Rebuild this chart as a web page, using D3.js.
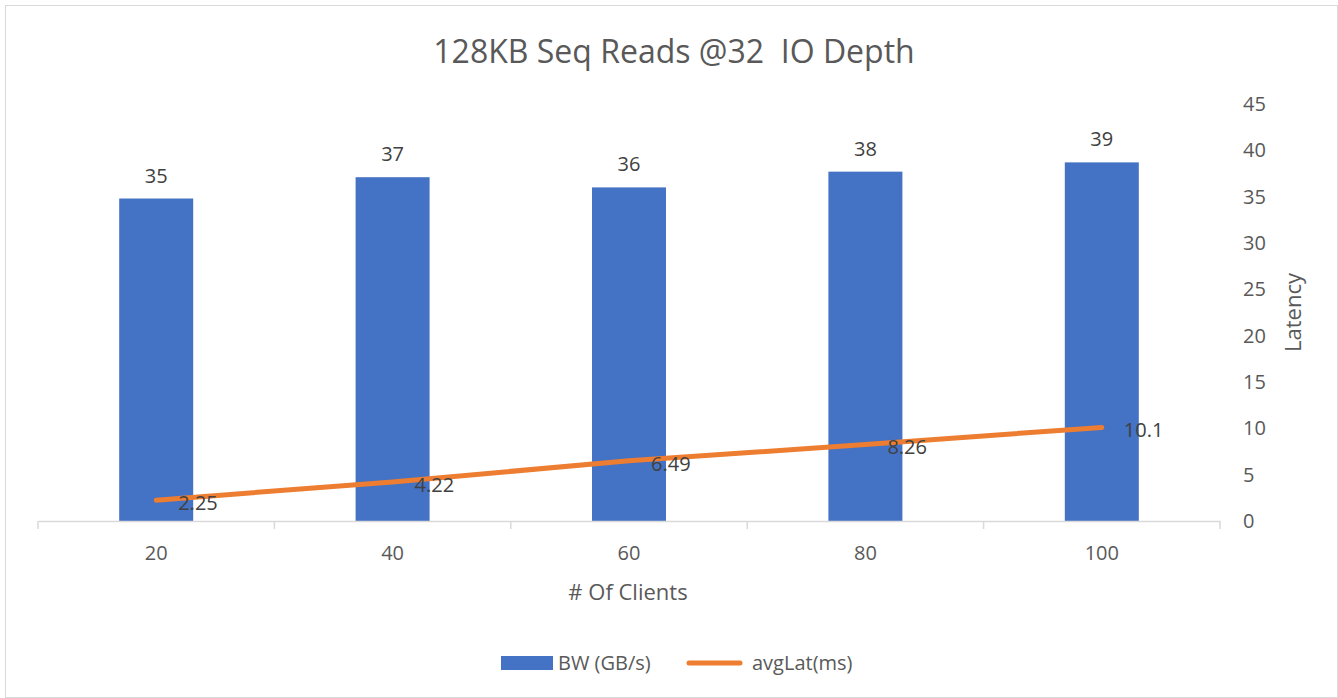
<!DOCTYPE html>
<html>
<head>
<meta charset="utf-8">
<script src="https://cdn.jsdelivr.net/npm/d3@7"></script>
<style>
  body { margin: 0; background: #fff; }
  text { font-family: "Open Sans", sans-serif; white-space: pre; }
</style>
</head>
<body>
<svg id="chart"></svg>
<script>
// chart data
const clients = ["20", "40", "60", "80", "100"];
const bandwidth = [34.8, 37.1, 36.0, 37.7, 38.7];
const latency = [2.25, 4.22, 6.49, 8.26, 10.1];
const latencyTicks = [0, 5, 10, 15, 20, 25, 30, 35, 40, 45];

const width = 1338, height = 698;
const margin = { left: 38, right: 118, top: 104, bottom: 177 };

const svg = d3.select("#chart")
  .attr("width", width)
  .attr("height", height);

// outer border
svg.append("rect")
  .attr("x", 5.5).attr("y", 5.5)
  .attr("width", width - 6).attr("height", height - 6)
  .attr("fill", "none")
  .attr("stroke", "#d9d9d9");

const x = d3.scaleBand()
  .domain(clients)
  .range([margin.left, width - margin.right]);

const y = d3.scaleLinear()
  .domain([0, 45])
  .range([height - margin.bottom, margin.top]);

// title
svg.append("text")
  .attr("x", 674).attr("y", 63)
  .attr("text-anchor", "middle")
  .attr("font-size", 32)
  .attr("fill", "#595959")
  .text("128KB Seq Reads @32  IO Depth");

// bars
const barW = 74;
svg.append("g")
  .selectAll("rect")
  .data(bandwidth)
  .join("rect")
    .attr("x", (d, i) => x(clients[i]) + x.bandwidth() / 2 - barW / 2)
    .attr("y", d => y(d))
    .attr("width", barW)
    .attr("height", d => y(0) - y(d))
    .attr("fill", "#4472c4");

svg.append("g")
  .selectAll("text")
  .data(bandwidth)
  .join("text")
    .attr("x", (d, i) => x(clients[i]) + x.bandwidth() / 2)
    .attr("y", d => y(d) - 16)
    .attr("text-anchor", "middle")
    .attr("font-size", 20)
    .attr("fill", "#404040")
    .text(d => d3.format(".0f")(d));

// x axis
const xAxis = svg.append("g")
  .attr("transform", `translate(0,${y(0)})`)
  .call(d3.axisBottom(x).tickSize(0).tickPadding(25));
xAxis.select(".domain").attr("stroke", "#d9d9d9").attr("stroke-width", 1.5);
xAxis.selectAll(".tick text")
  .attr("font-size", 20)
  .attr("font-family", "Open Sans, sans-serif")
  .attr("fill", "#595959");

// category separators
const bounds = clients.map(c => x(c)).concat([x.range()[1]]);
svg.append("g")
  .selectAll("line")
  .data(bounds)
  .join("line")
    .attr("x1", d => d).attr("x2", d => d)
    .attr("y1", y(0)).attr("y2", y(0) + 8)
    .attr("stroke", "#d9d9d9")
    .attr("stroke-width", 1.5);

svg.append("text")
  .attr("x", 628).attr("y", 600)
  .attr("text-anchor", "middle")
  .attr("font-size", 22)
  .attr("fill", "#595959")
  .text("# Of Clients");

// right axis
const yAxis = svg.append("g")
  .attr("transform", `translate(${width - margin.right + 23},0)`)
  .call(d3.axisRight(y).tickValues(latencyTicks).tickSize(0).tickPadding(0));
yAxis.select(".domain").remove();
yAxis.selectAll(".tick text")
  .attr("font-size", 20)
  .attr("font-family", "Open Sans, sans-serif")
  .attr("fill", "#595959");

svg.append("text")
  .attr("transform", `translate(1301,${(y(0) + y(45)) / 2}) rotate(-90)`)
  .attr("text-anchor", "middle")
  .attr("font-size", 22)
  .attr("fill", "#595959")
  .text("Latency");

// latency line
const line = d3.line()
  .x((d, i) => x(clients[i]) + x.bandwidth() / 2)
  .y(d => y(d));

svg.append("path")
  .datum(latency)
  .attr("d", line)
  .attr("fill", "none")
  .attr("stroke", "#ed7d31")
  .attr("stroke-width", 5)
  .attr("stroke-linecap", "round");

svg.append("g")
  .selectAll("text")
  .data(latency)
  .join("text")
    .attr("x", (d, i) => x(clients[i]) + x.bandwidth() / 2 + 22)
    .attr("y", d => y(d) + 10)
    .attr("font-size", 20)
    .attr("fill", "#404040")
    .text(d => d);

// legend
const legend = svg.append("g");
legend.append("rect")
  .attr("x", 501).attr("y", 656)
  .attr("width", 52).attr("height", 14)
  .attr("fill", "#4472c4");
legend.append("text")
  .attr("x", 558).attr("y", 670)
  .attr("font-size", 20)
  .attr("fill", "#595959")
  .text("BW (GB/s)");
legend.append("line")
  .attr("x1", 689).attr("x2", 740)
  .attr("y1", 663).attr("y2", 663)
  .attr("stroke", "#ed7d31")
  .attr("stroke-width", 5)
  .attr("stroke-linecap", "round");
legend.append("text")
  .attr("x", 752).attr("y", 670)
  .attr("font-size", 20)
  .attr("fill", "#595959")
  .text("avgLat(ms)");
</script>
</body>
</html>
